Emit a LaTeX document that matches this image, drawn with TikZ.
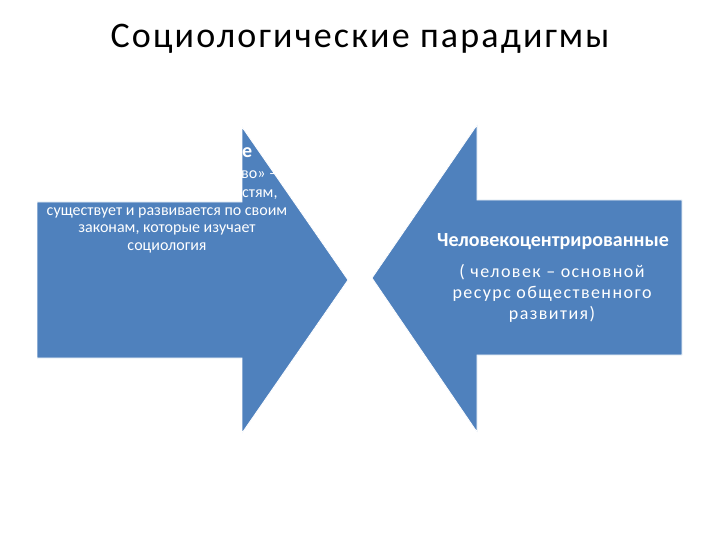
\documentclass[tikz,border=0pt]{standalone}
\usepackage{fontspec}
\setmainfont{Carlito}
\newfontfamily\widefont[LetterSpace=6]{Carlito}
\newfontfamily\spacedfont[LetterSpace=8]{Carlito}
\usetikzlibrary{positioning}
\definecolor{slideblue}{RGB}{79,129,189}

\begin{document}
\begin{tikzpicture}[x=1pt, y=-1pt,
    bigarrow/.style={fill=slideblue, draw=white, line width=0.8pt, line join=miter},
    titletext/.style={font=\widefont\fontsize{36}{42}\selectfont, anchor=base, inner sep=0pt},
    headtext/.style={text=white, font=\bfseries\fontsize{20}{24}\selectfont, anchor=base, inner sep=0pt},
    bodytext/.style={text=white, font=\fontsize{16}{18}\selectfont, anchor=base, inner sep=0pt},
    righttext/.style={text=white, font=\spacedfont\fontsize{18}{21}\selectfont, anchor=base, inner sep=0pt}
]
    \useasboundingbox (0,0) rectangle (720,540);

    % Title
    \node[titletext] (title) at (360,48) {Социологические парадигмы};

    % Left arrow (pointing right)
    \draw[bigarrow] (37,202) -- (242,202) -- (242,127) -- (348,280)
        -- (242,433) -- (242,358) -- (37,358) -- cycle;

    % Right arrow (pointing left)
    \draw[bigarrow] (682,200) -- (477,200) -- (477,125) -- (372,278)
        -- (477,432) -- (477,355) -- (682,355) -- cycle;

    % Left arrow text (only the parts that show on the blue)
    \node[headtext, anchor=base west] (lefthead) at (242,158) {е};
    \node[bodytext, anchor=base west] (leftline1) at (241,179) {во» –};
    \node[bodytext, anchor=base west] (leftline2) at (242,197) {стям,};
    \node[bodytext] (leftline3) at (167,215) {существует и развивается по своим};
    \node[bodytext] (leftline4) at (167,233) {законам, которые изучает};
    \node[bodytext] (leftline5) at (167,251) {социология};

    % Right arrow text
    \node[headtext] (righthead) at (553,247) {Человекоцентрированные};
    \node[righttext] (rightline1) at (552,277) {( человек – основной};
    \node[righttext] (rightline2) at (552,298) {ресурс общественного};
    \node[righttext] (rightline3) at (552,319) {развития)};

\end{tikzpicture}
\end{document}
